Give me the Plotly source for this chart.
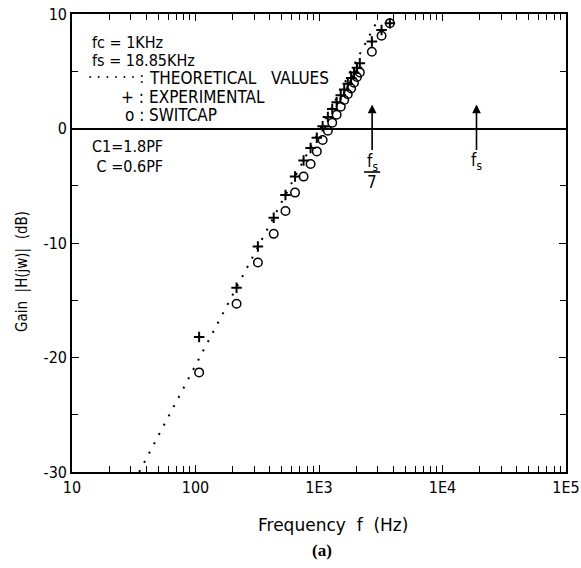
import math
import plotly.graph_objects as go

# Frequency response of the switched-capacitor stage (fc = 1 kHz, fs = 18.85 kHz)
theory_freq = [35, 100, 300, 1000, 3000]
theory_gain = [-30.0, -20.7, -10.9, -0.3, 9.5]

meas_freq = [107, 215, 320, 430, 535, 640, 750, 855, 960, 1070, 1180, 1280,
             1390, 1500, 1600, 1710, 1820, 1920, 2030, 2140, 2680, 3210, 3750]
exp_gain = [-18.2, -13.9, -10.3, -7.8, -5.8, -4.2, -2.8, -1.7, -0.8, 0.2, 1.0, 1.7,
            2.3, 2.9, 3.4, 3.9, 4.4, 4.9, 5.3, 5.7, 7.6, 8.6, 9.2]
switcap_gain = [-21.3, -15.3, -11.7, -9.2, -7.2, -5.6, -4.2, -3.1, -2.0, -1.0, -0.2, 0.5,
                1.2, 1.9, 2.5, 3.0, 3.5, 4.0, 4.5, 4.9, 6.7, 8.1, 9.2]

fs = 18850.0
x_ticks = [10, 100, 1000, 10000, 100000]
x_labels = ["10", "100", "1E3", "1E4", "1E5"]
x_minor = [m * d for d in (10, 100, 1000, 10000) for m in range(2, 10)]
y_ticks = [-30, -20, -10, 0, 10]
y_labels = ["-30", "-20", "-10", "0", "10"]
y_minor = [-25, -15, -5, 5]

FONT = "Liberation Sans Narrow, DejaVu Sans Condensed, Liberation Sans, Arial, sans-serif"
WIDE = "DejaVu Sans, Liberation Sans, Arial, sans-serif"
INK = "black"

# plot-area geometry in pixels
L, R, T, B = 72, 566, 14, 472


def px(xp):
    return (xp - L) / float(R - L)


def py(yp):
    return (B - yp) / float(B - T)


def note(x, y, text, size, family=FONT, xanchor="center", angle=0):
    fig.add_annotation(x=px(x), y=py(y), xref="paper", yref="paper",
                       xanchor=xanchor, yanchor="middle", showarrow=False,
                       textangle=angle, text=text,
                       font=dict(family=family, size=size, color=INK))


fig = go.Figure()
fig.add_trace(go.Scatter(
    x=theory_freq, y=theory_gain, mode="lines",
    line=dict(color=INK, width=2, dash="2px,8.5px"), showlegend=False))
fig.add_trace(go.Scatter(
    x=meas_freq, y=switcap_gain, mode="markers",
    marker=dict(symbol="circle-open", size=8.5, color=INK, line=dict(width=1.5, color=INK)),
    showlegend=False))
fig.add_trace(go.Scatter(
    x=meas_freq, y=exp_gain, mode="markers",
    marker=dict(symbol="cross-thin", size=7.5, color=INK, line=dict(width=2, color=INK)),
    showlegend=False))

# arrows marking fs/7 and fs on the 0 dB line
for f in (fs / 7, fs):
    fig.add_annotation(x=math.log10(f), y=2.1, ax=math.log10(f), ay=-2.0, xref="x", yref="y",
                       axref="x", ayref="y", showarrow=True, arrowhead=2,
                       arrowsize=1.1, arrowwidth=1.6, arrowcolor=INK, text="")

fig.add_annotation(x=math.log10(fs / 7), y=-3.0, xref="x", yref="y", showarrow=False,
                   text="f<sub>s</sub>", font=dict(family=FONT, size=17, color=INK))
fig.add_shape(type="line", xref="x", yref="y",
              x0=fs / 7 / 10 ** 0.065, x1=fs / 7 * 10 ** 0.065,
              y0=-3.8, y1=-3.8, line=dict(color=INK, width=1.6))
fig.add_annotation(x=math.log10(fs / 7), y=-4.7, xref="x", yref="y", showarrow=False,
                   text="7", font=dict(family=FONT, size=17, color=INK))
fig.add_annotation(x=math.log10(fs), y=-2.9, xref="x", yref="y", showarrow=False,
                   text="f<sub>s</sub>", font=dict(family=FONT, size=17, color=INK))

# parameter block and key
note(90, 42, "fc = 1KHz", 16, xanchor="left")
note(90, 60, "fs = 18.85KHz", 16, xanchor="left")
note(147, 78, "THEORETICAL   VALUES", 17, xanchor="left")
note(147, 97, "EXPERIMENTAL", 17, xanchor="left")
note(147, 115, "SWITCAP", 17, xanchor="left")
note(146, 78, "· · · · · · :", 15, xanchor="right")
note(146, 97, "+ :", 17, xanchor="right")
note(146, 115, "o :", 17, xanchor="right")
note(90, 147, "C1=1.8PF", 16, xanchor="left")
note(90, 166, " C =0.6PF", 16, xanchor="left")

# axis titles and panel label
note(22, 272, "Gain  |H(jw)|  (dB)", 15, angle=-90)
note(333, 525, "Frequency  f  (Hz)", 17, family=WIDE)
note(322, 550, "<b>(a)</b>", 17, family="Liberation Serif, serif")

fig.update_layout(
    width=581, height=568,
    margin=dict(l=L, r=581 - R, t=T, b=568 - B),
    paper_bgcolor="white", plot_bgcolor="white",
    font=dict(family=FONT, size=15, color=INK),
    xaxis=dict(
        type="log", range=[1, 5], tickvals=x_ticks, ticktext=x_labels,
        ticks="inside", ticklen=7, tickwidth=1.2, tickcolor=INK,
        showline=True, linewidth=1.6, linecolor=INK, mirror="ticks",
        showgrid=False, zeroline=False, automargin=False,
        minor=dict(tickvals=x_minor, ticks="inside", ticklen=6, tickwidth=1.2, tickcolor=INK),
        tickfont=dict(family=FONT, size=16),
    ),
    yaxis=dict(
        range=[-30, 10], tickvals=y_ticks, ticktext=y_labels,
        ticks="inside", ticklen=7, tickwidth=1.2, tickcolor=INK,
        showline=True, linewidth=1.6, linecolor=INK, mirror="ticks",
        showgrid=False, zeroline=True, zerolinecolor=INK, zerolinewidth=1.5,
        automargin=False,
        minor=dict(tickvals=y_minor, ticks="inside", ticklen=6, tickwidth=1.2, tickcolor=INK),
        tickfont=dict(family=FONT, size=16),
    ),
)

fig.write_html("out.html")
